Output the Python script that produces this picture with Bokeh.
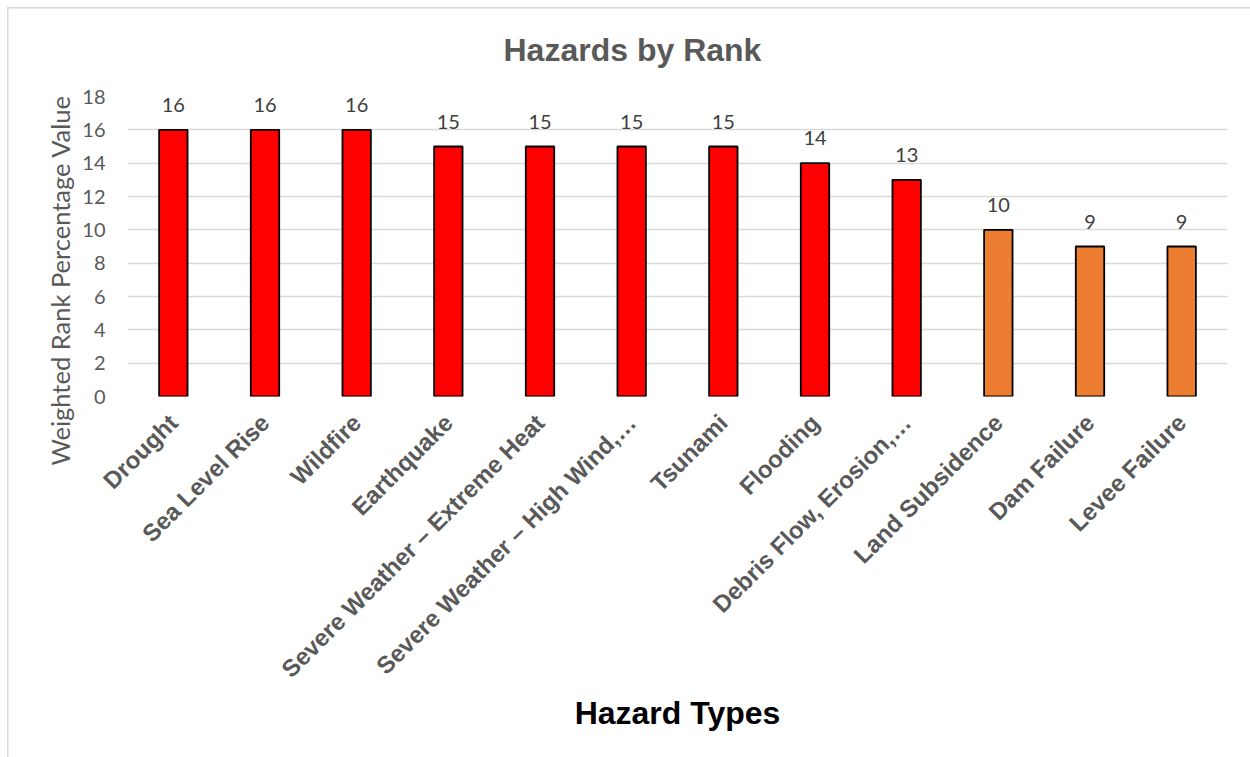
from bokeh.plotting import figure
from bokeh.models import ColumnDataSource, FactorRange, Range1d, LabelSet, Title, FixedTicker
from bokeh.transform import factor_cmap
from bokeh.core.properties import value
from bokeh.embed import file_html
from bokeh.resources import INLINE

hazards = [
    "Drought", "Sea Level Rise", "Wildfire", "Earthquake",
    "Severe Weather \u2013 Extreme Heat", "Severe Weather \u2013 High Wind,\u2026",
    "Tsunami", "Flooding", "Debris Flow, Erosion,\u2026",
    "Land Subsidence", "Dam Failure", "Levee Failure",
]
values = [16, 16, 16, 15, 15, 15, 15, 14, 13, 10, 9, 9]
tiers = ["High"] * 9 + ["Medium"] * 3
y_ticks = [0, 2, 4, 6, 8, 10, 12, 14, 16, 18]

source = ColumnDataSource(dict(hazard=hazards, value=values, tier=tiers,
                               label=[str(v) for v in values]))

p = figure(x_range=FactorRange(*hazards, range_padding=0), y_range=Range1d(0, 18),
           width=1250, height=757, output_backend="svg", toolbar_location=None,
           min_border_left=127, min_border_right=23, min_border_top=96, min_border_bottom=361)

# chart-area border (left and top edges, as in the reference)
p.styles = {
    "background": ("linear-gradient(#d9d9d9, #d9d9d9) 7px 7px / 1.5px 100% no-repeat, "
                   "linear-gradient(#d9d9d9, #d9d9d9) 7px 7px / 100% 1.5px no-repeat, white"),
}
p.border_fill_color = None
p.background_fill_color = "white"

p.vbar(x="hazard", top="value", width=0.31, source=source,
       fill_color=factor_cmap("tier", ["#ff0000", "#ed7d31"], ["High", "Medium"]),
       line_color="black", line_width=1.8)

labels = LabelSet(x="hazard", y="value", text="label", source=source,
                  text_align="center", text_baseline="alphabetic", y_offset=18,
                  text_font=value("Lato"), text_font_size="20px", text_color="#404040")
p.add_layout(labels)

p.outline_line_color = None
p.xgrid.grid_line_color = None
p.ygrid.grid_line_color = "#d9d9d9"
p.ygrid.grid_line_width = 1.3

p.yaxis.ticker = FixedTicker(ticks=y_ticks)
p.yaxis.axis_line_color = None
p.yaxis.major_tick_line_color = None
p.yaxis.minor_tick_line_color = None
p.yaxis.major_label_standoff = 16
p.yaxis.major_label_text_font = "Lato"
p.yaxis.major_label_text_font_size = "20px"
p.yaxis.major_label_text_color = "#595959"

p.xaxis.axis_line_color = None
p.xaxis.major_tick_line_color = None
p.xaxis.major_label_orientation = 0.785398
p.xaxis.major_label_standoff = 16
p.xaxis.major_label_text_font = "Liberation Sans"
p.xaxis.major_label_text_font_style = "bold"
p.xaxis.major_label_text_font_size = "24px"
p.xaxis.major_label_text_color = "#595959"
p.xaxis.axis_label = "Hazard Types"
p.xaxis.axis_label_text_font = "Liberation Sans"
p.xaxis.axis_label_text_font_style = "bold"
p.xaxis.axis_label_text_font_size = "32px"
p.xaxis.axis_label_text_color = "black"
p.xaxis.axis_label_standoff = 0

p.add_layout(Title(text="Weighted Rank Percentage Value", align="left", offset=-69,
                   text_font="Lato", text_font_size="25.5px", text_font_style="normal",
                   text_color="#595959", standoff=9), "left")

p.add_layout(Title(text="Hazards by Rank", align="left", offset=376,
                   text_font="Liberation Sans", text_font_size="32px", text_font_style="bold",
                   text_color="#595959", standoff=58), "above")

open("out.html", "w").write(file_html(p, INLINE))
